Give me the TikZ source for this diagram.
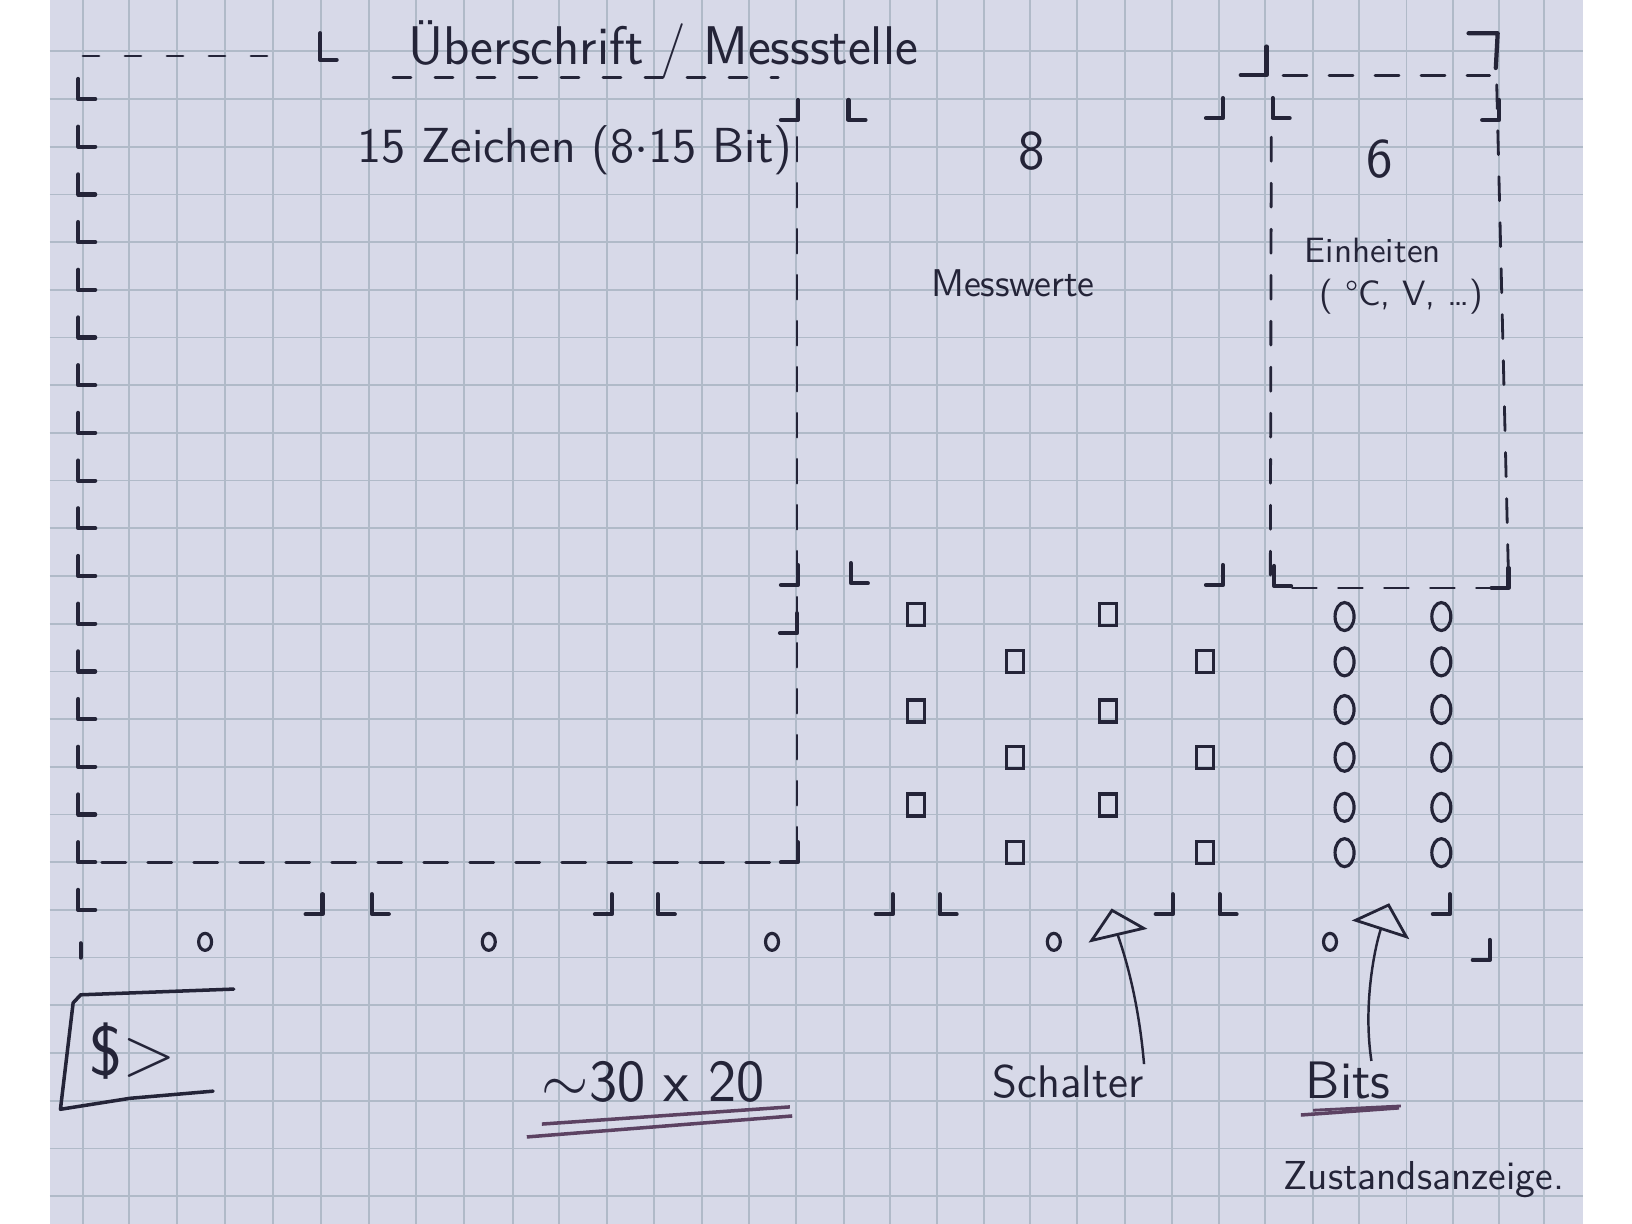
\documentclass[tikz,border=0pt]{standalone}
\usetikzlibrary{arrows.meta,shapes.geometric}
\definecolor{papier}{RGB}{215,217,232}
\definecolor{raster}{RGB}{176,186,200}
\definecolor{tinte}{RGB}{36,36,56}
\definecolor{lila}{RGB}{92,66,98}
\begin{document}
\begin{tikzpicture}[x=0.4697cm, y=-0.477cm,
    stift/.style={draw=tinte, line width=1.2pt, line cap=round, line join=round},
    strich/.style={draw=tinte, line width=0.8pt, line cap=round, dash pattern=on 2.4mm off 2.2mm},
    schrift/.style={text=tinte, inner sep=0pt, font=\sffamily\fontsize{#1}{#1}\selectfont},
    schalterbox/.style={draw=tinte, line width=0.9pt, minimum width=0.17cm, minimum height=0.22cm, inner sep=0pt},
    bitoval/.style={ellipse, draw=tinte, line width=0.9pt, minimum width=0.19cm, minimum height=0.28cm, inner sep=0pt},
    knopf/.style={ellipse, draw=tinte, line width=0.9pt, minimum width=0.13cm, minimum height=0.17cm, inner sep=0pt},
    pfeil/.style={draw=tinte, line width=0.7pt, -{Triangle[open, length=2.8mm, width=6mm, line width=0.8pt]}},
    lmark/.pic={\draw[stift] (0,-0.42) -- (0,0) -- (0.36,0);},
    jmark/.pic={\draw[stift] (0,-0.42) -- (0,0) -- (-0.36,0);}]
    %Papier und Raster
    \fill[white] (-1.767,-2.0755) rectangle (32.98,23.585);
    \useasboundingbox (-1.767,-2.0755) rectangle (32.98,23.585);
    \fill[papier] (-0.703,-2.0755) rectangle (31.93,23.585);
    \foreach \gx in {0,0.98,2.0,3.02,4.05,5.07,6.09,7.09,8.11,9.16,10.13,11.16,12.16,13.18,14.18,15.18,16.2,17.18,18.18,19.18,20.16,21.16,22.18,23.18,24.18,25.17,26.18,27.17,28.18,29.17,30.14,31.1}
        \draw[raster, line width=0.5pt] (\gx,-2.0755) -- (\gx,23.585); %senkrecht
    \foreach \gy in {-1,...,23}
        \draw[raster, line width=0.5pt] (-0.703,\gy) -- (31.93,\gy); %waagrecht
    %Ueberschrift
    \draw[strich, dash pattern=on 1.6mm off 2.6mm] (0,-0.9) -- (4.4,-0.9);
    \draw[stift] (5.05,-1.38) -- (5.05,-0.82) -- (5.4,-0.82);
    \node[schrift=15.5] (titel) at (12.35,-1.05) {Überschrift / Messstelle};
    \draw[strich, dash pattern=on 1.8mm off 2.4mm] (6.6,-0.45) -- (14.8,-0.45);
    %Linke Spalte
    \foreach \r in {0,...,17}
        \pic at (-0.1,\r) {lmark};
    \draw[stift] (-0.05,17.7) -- (-0.05,18.0);
    %Feld 15 Zeichen
    \node[schrift=14] (zeichen) at (10.47,1.07) {15 Zeichen (8$\cdot$15 Bit)};
    \draw[strich] (15.2,0.8) -- (15.2,15.9); %rechte Kante
    \draw[strich] (0.4,16.0) -- (15.05,16.0); %untere Kante
    \pic at (15.22,0.44) {jmark};
    \pic at (15.22,10.19) {jmark};
    \pic at (15.2,11.2) {jmark};
    \pic at (15.22,16.0) {jmark};
    %Feld Messwerte
    \pic at (16.3,0.44) {lmark};
    \pic at (24.27,0.4) {jmark};
    \pic at (16.35,10.15) {lmark};
    \pic at (24.27,10.19) {jmark};
    \node[schrift=16] (acht) at (20.2,1.1) {8};
    \node[schrift=11] (messwerte) at (19.8,3.86) {Messwerte};
    %Feld Einheiten
    \draw[stift] (25.2,-1.1) -- (25.2,-0.5) -- (24.65,-0.5);
    \draw[stift] (29.5,-1.38) -- (30.12,-1.38) -- (30.08,-0.65);
    \draw[strich] (25.55,-0.5) -- (29.95,-0.5); %oben
    \draw[strich] (30.1,-0.3) -- (30.35,10.0); %rechts
    \draw[strich] (25.3,0.8) -- (25.28,10.0); %links
    \draw[strich] (25.75,10.25) -- (30.1,10.25); %unten
    \pic at (25.33,0.4) {lmark};
    \pic at (30.15,0.44) {jmark};
    \pic at (25.36,10.21) {lmark};
    \pic at (30.35,10.25) {jmark};
    \node[schrift=16] (sechs) at (27.6,1.25) {6};
    \node[schrift=10] (einheiten) at (27.46,3.17) {Einheiten};
    \node[schrift=10] (einh) at (28.07,4.15) {( °C, V, \dots)};
    %Schalter
    \foreach \x/\y [count=\i] in {17.73/10.8, 21.83/10.8, 19.84/11.8, 23.89/11.8,
        17.73/12.83, 21.83/12.83, 19.84/13.8, 23.89/13.8,
        17.73/14.8, 21.83/14.8, 19.84/15.8, 23.89/15.8}
        \node[schalterbox] (s\i) at (\x,\y) {};
    %Bits
    \foreach \y [count=\i] in {10.85,11.8,12.8,13.8,14.85,15.8}{
        \node[bitoval] (ba\i) at (26.86,\y) {};
        \node[bitoval] (bb\i) at (28.92,\y) {};
    }
    %Untere Zeile
    \foreach \x in {5.1,11.26,17.24,23.2,29.1}
        \pic at (\x,17.09) {jmark};
    \foreach \x in {6.15,12.24,18.24,24.2}
        \pic at (\x,17.09) {lmark};
    \pic at (29.95,18.05) {jmark};
    \foreach \x [count=\i] in {2.6,8.64,14.67,20.67,26.55}
        \node[knopf] (k\i) at (\x,17.67) {};
    %Eingabe
    \draw[stift, line width=1pt] (3.21,18.66) -- (-0.05,18.78) -- (-0.21,18.95) -- (-0.48,21.18) -- (1.0,20.95) -- (2.77,20.8);
    \node[schrift=20] (prompt) at (1.06,19.96) {\$>};
    %Beschriftung unten
    \node[schrift=17] (groesse) at (12.14,20.6) {$\sim$30 x 20};
    \draw[lila, line width=1pt] (9.77,21.49) -- (15.05,21.13);
    \draw[lila, line width=1pt] (9.45,21.76) -- (15.1,21.32);
    \node[schrift=13] (schalter) at (20.97,20.6) {Schalter};
    \node[schrift=15] (bits) at (26.94,20.57) {Bits};
    \draw[lila, line width=1pt] (25.93,21.3) -- (28.02,21.15);
    \draw[lila, line width=0.8pt] (26.19,21.2) -- (28.06,21.11);
    \node[schrift=11.5] (zustand) at (28.55,22.65) {Zustandsanzeige.};
    \coordinate (spitzeS) at (21.9,16.97);
    \coordinate (spitzeB) at (27.81,16.86);
    \draw[pfeil] (schalter.north east) .. controls (22.45,18.6) and (22.05,17.6) .. (spitzeS);
    \draw[pfeil] ([xshift=-2mm]bits.north east) .. controls (27.25,19.0) and (27.5,17.8) .. (spitzeB);
\end{tikzpicture}
\end{document}
